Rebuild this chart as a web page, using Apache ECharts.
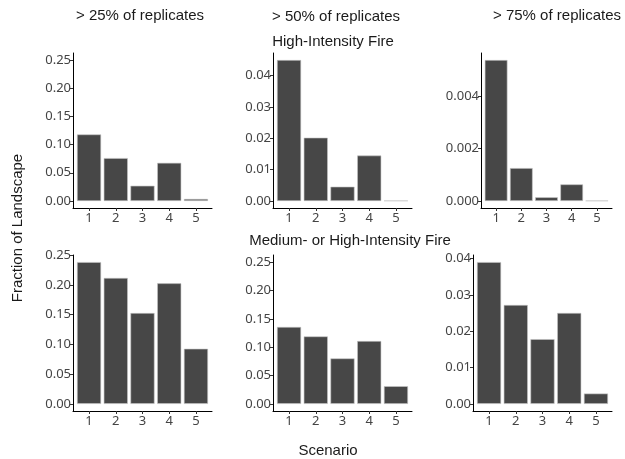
<!DOCTYPE html>
<html>
<head>
<meta charset="utf-8">
<script src="https://cdn.jsdelivr.net/npm/echarts@6/dist/echarts.min.js"></script>
<style>html,body{margin:0;padding:0;background:#fff;}#c{width:625px;height:459px;}</style>
</head>
<body>
<div id="c"></div>
<script>
// ---- data ----
const scenarios = [1, 2, 3, 4, 5];
const colTitles = ['> 25% of replicates', '> 50% of replicates', '> 75% of replicates'];
const rowTitles = ['High-Intensity Fire', 'Medium- or High-Intensity Fire'];
const yTitle = 'Fraction of Landscape';
const xTitle = 'Scenario';

const high25 = [0.118, 0.076, 0.027, 0.0676, 0.0035];
const high50 = [0.045, 0.0202, 0.00455, 0.0145, 0.0001];
const high75 = [0.00536, 0.00125, 0.00014, 0.00063, 0.00001];
const med25 = [0.2385, 0.2118, 0.1528, 0.2028, 0.0927];
const med50 = [0.1356, 0.119, 0.0802, 0.1108, 0.0312];
const med75 = [0.039, 0.0272, 0.0178, 0.025, 0.00285];

const ticksA = [0, 0.05, 0.10, 0.15, 0.20, 0.25];
const ticksB = [0, 0.01, 0.02, 0.03, 0.04];
const ticksC = [0, 0.002, 0.004];

// upper limit of each panel's scale (null = data max)
const upperLimits = [0.25, null, null, null, 0.25, null];

// ---- layout ----
const panels = [
  {vals: high25, ticks: ticksA, dec: 2, left: 73, top: 53, width: 139, height: 155},
  {vals: high50, ticks: ticksB, dec: 2, left: 273, top: 53, width: 139, height: 155},
  {vals: high75, ticks: ticksC, dec: 3, left: 481, top: 53, width: 131, height: 155},
  {vals: med25, ticks: ticksA, dec: 2, left: 73, top: 255, width: 139, height: 156},
  {vals: med50, ticks: ticksA, dec: 2, left: 273, top: 255, width: 139, height: 156},
  {vals: med75, ticks: ticksB, dec: 2, left: 473, top: 255, width: 139, height: 156}
];

const tickFont = {color: '#444444', fontSize: 13, fontFamily: 'Noto Sans'};
const titleFont = '15px "Liberation Sans", Arial, sans-serif';

const grids = [], xAxes = [], yAxes = [], series = [];
panels.forEach((p, i) => {
  const lim = upperLimits[i] != null ? upperLimits[i] : Math.max(...p.vals);
  const pad = lim * 0.05;
  grids.push({left: p.left, top: p.top, width: p.width, height: p.height, containLabel: false});
  xAxes.push({
    gridIndex: i, type: 'value', min: 0.4, max: 5.6,
    axisLine: {show: true, onZero: false, lineStyle: {color: '#000', width: 1}},
    axisTick: {show: true, length: 3, customValues: scenarios, lineStyle: {color: '#333'}},
    axisLabel: Object.assign({customValues: scenarios, margin: 4, formatter: v => String(v)}, tickFont),
    splitLine: {show: false}
  });
  yAxes.push({
    gridIndex: i, type: 'value', min: -pad, max: lim + pad,
    axisLine: {show: true, onZero: false, lineStyle: {color: '#000', width: 1}},
    axisTick: {show: true, length: 3, customValues: p.ticks, lineStyle: {color: '#333'}},
    axisLabel: Object.assign({customValues: p.ticks, margin: 2, formatter: v => Number(v).toFixed(p.dec)}, tickFont),
    splitLine: {show: false}
  });
  series.push({
    type: 'bar', xAxisIndex: i, yAxisIndex: i,
    data: scenarios.map((s, k) => [s, p.vals[k]]),
    barWidth: 0.9 * p.width / 5.2,
    itemStyle: {color: '#474747', borderColor: '#c4c4c4', borderWidth: 0.6},
    silent: true, animation: false
  });
});

const txt = (x, y, s, rot) => ({
  type: 'text', x: x, y: y, rotation: rot || 0,
  style: {text: s, font: titleFont, fill: '#1a1a1a', textAlign: 'center', textVerticalAlign: 'middle'}
});

const graphics = [
  txt(140, 16, colTitles[0]),
  txt(336, 17, colTitles[1]),
  txt(557, 16, colTitles[2]),
  txt(333, 42, rowTitles[0]),
  txt(350, 241, rowTitles[1]),
  txt(18, 228, yTitle, Math.PI / 2),
  txt(328, 451, xTitle)
];

const chart = echarts.init(document.getElementById('c'), null, {renderer: 'canvas'});
chart.setOption({
  animation: false,
  backgroundColor: '#fff',
  grid: grids, xAxis: xAxes, yAxis: yAxes, series: series,
  graphic: graphics
});
</script>
</body>
</html>
